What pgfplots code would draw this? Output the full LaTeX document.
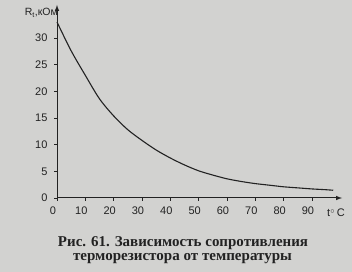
\documentclass[border=0pt]{standalone}
\usepackage{pgfplots}
\pgfplotsset{compat=1.18}
\usepackage{fontspec}
\setmainfont{Liberation Serif}
\newfontfamily\ticksans{Liberation Sans}
\definecolor{paper}{RGB}{210,210,208}
\definecolor{ink}{RGB}{34,34,34}

% resistance of the thermistor, kOhm, against temperature, deg C
\begin{document}
\begin{tikzpicture}
\fill[paper] (-57pt,-74pt) rectangle (295pt,198pt);
\path[use as bounding box] (-57pt,-74pt) rectangle (295pt,198pt);
\begin{axis}[
  scale only axis,
  width=285pt, height=193pt,
  xmin=0, xmax=100.6, ymin=0, ymax=36.2,
  axis lines=left,
  axis line style={ink, line width=1pt, -latex},
  xtick={0,10,...,90},
  ytick={0,5,...,30},
  tick align=outside,
  major tick length=3pt,
  tick style={ink, line width=0.6pt},
  ticklabel style={font=\ticksans\fontsize{11}{12}\selectfont, text=ink},
  /pgf/number format/assume math mode=true,
  xticklabel style={xshift=-4pt, yshift=-2pt},
  yticklabel style={xshift=-3pt},
  clip=false,
]
\addplot[ink, line width=1.1pt, smooth] coordinates {
  (0,33) (5,27.6) (10,23) (15,18.6) (20,15.4) (25,12.8) (30,10.8)
  (35,9.0) (40,7.5) (45,6.2) (50,5.1) (55,4.3) (60,3.6) (65,3.1)
  (70,2.7) (75,2.4) (80,2.1) (85,1.9) (90,1.7) (95,1.55) (97.5,1.45)
};
\end{axis}
\node[anchor=east, inner sep=0pt, text=ink, font=\ticksans\fontsize{10.5}{11}\selectfont] at (1pt,185pt) {R\textsubscript{t},кОм};
\node[anchor=base, inner sep=0pt, text=ink, font=\ticksans\fontsize{11}{12}\selectfont] at (279pt,-19pt) {t$^\circ$\,C};
\node[anchor=base, inner sep=0pt, text=ink] at (126pt,-48.5pt)
  {\resizebox{250pt}{!}{\bfseries\fontsize{15}{16}\selectfont Рис. 61. Зависимость сопротивления}};
\node[anchor=base, inner sep=0pt, text=ink] at (125.5pt,-63pt)
  {\resizebox{219pt}{!}{\bfseries\fontsize{15}{16}\selectfont терморезистора от температуры}};
\end{tikzpicture}
\end{document}
